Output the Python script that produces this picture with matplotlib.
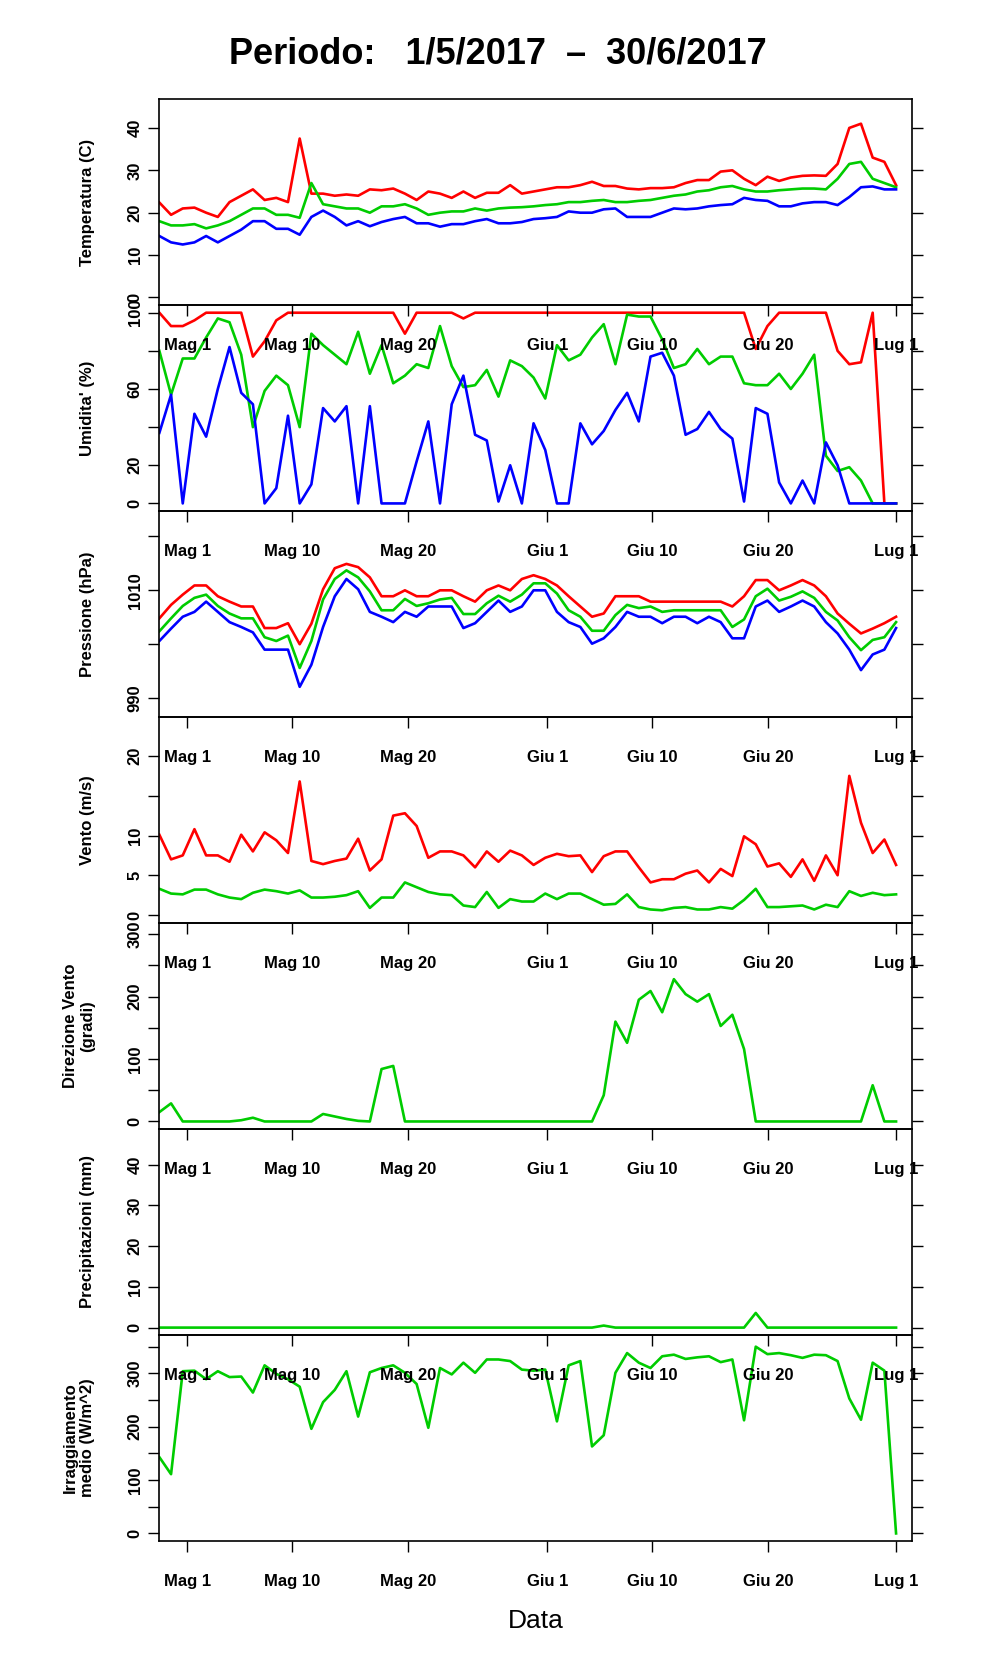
import numpy as np
import matplotlib.pyplot as plt

plt.rcParams['font.family'] = ['Liberation Sans', 'DejaVu Sans']

# x tick positions (days from 1 May) and labels
tick_days = [0, 9, 19, 31, 40, 50, 61]
tick_labels = ['Mag 1', 'Mag 10', 'Mag 20', 'Giu 1', 'Giu 10', 'Giu 20', 'Lug 1']
x_first, x_last = -2.4, 61.0

# temperatura
t_max = [22.4, 19.5, 21, 21.2, 20, 19, 22.5, 24, 25.5, 23, 23.5, 22.5, 37.5, 24.5, 24.5, 24, 24.3, 24,
         25.5, 25.3, 25.7, 24.5, 23, 25, 24.5, 23.5, 25, 23.5, 24.7, 24.7, 26.5, 24.5, 25, 25.5, 26, 26,
         26.5, 27.3, 26.3, 26.3, 25.7, 25.5, 25.8, 25.8, 26, 27, 27.7, 27.7, 29.7, 30, 28, 26.5, 28.5, 27.5,
         28.3, 28.7, 28.8, 28.7, 31.5, 40, 41, 33, 32, 26.5]
t_med = [18, 17, 17, 17.3, 16.3, 17, 18, 19.5, 21, 21, 19.5, 19.5, 18.8, 27, 22, 21.5, 21, 21, 20, 21.5,
         21.5, 22, 21, 19.5, 20, 20.3, 20.3, 21, 20.5, 21, 21.2, 21.3, 21.5, 21.8, 22, 22.5, 22.5, 22.8, 23,
         22.5, 22.5, 22.8, 23, 23.5, 24, 24.3, 25, 25.3, 26, 26.3, 25.5, 25, 25, 25.3, 25.5, 25.7, 25.7,
         25.5, 28, 31.5, 32, 28, 27, 26]
t_min = [14.5, 13, 12.5, 13, 14.5, 13, 14.5, 16, 18, 18, 16.2, 16.2, 14.8, 19, 20.5, 19, 17, 18, 16.8,
         17.8, 18.5, 19, 17.5, 17.5, 16.7, 17.3, 17.3, 18, 18.5, 17.5, 17.5, 17.8, 18.5, 18.7, 19, 20.3, 20,
         20, 20.8, 21, 19, 19, 19, 20, 21, 20.8, 21, 21.5, 21.8, 22, 23.5, 23, 22.8, 21.5, 21.5, 22.2, 22.5,
         22.5, 21.8, 23.7, 26, 26.2, 25.5, 25.5]

# umidita'
u_max = [100, 93, 93, 96, 100, 100, 100, 100, 77, 85, 96, 100, 100, 100, 100, 100, 100, 100, 100, 100,
         100, 89, 100, 100, 100, 100, 97, 100, 100, 100, 100, 100, 100, 100, 100, 100, 100, 100, 100, 100,
         100, 100, 100, 100, 100, 100, 100, 100, 100, 100, 100, 81, 93, 100, 100, 100, 100, 100, 80, 73, 74,
         100, 0, 0]
u_med = [80, 57, 76, 76, 87, 97, 95, 78, 40, 59, 67, 62, 40, 89, 83, 78, 73, 90, 68, 83, 63, 67, 73, 71,
         93, 72, 61, 62, 70, 56, 75, 72, 66, 55, 83, 75, 78, 87, 94, 73, 99, 98, 98, 86, 71, 73, 81, 73, 77,
         77, 63, 62, 62, 68, 60, 68, 78, 25, 17, 19, 12, 0, 0, 0]
u_min = [37, 57, 0, 47, 35, 60, 82, 58, 52, 0, 8, 46, 0, 10, 50, 43, 51, 0, 51, 0, 0, 0, 22, 43, 0, 52,
         67, 36, 33, 1, 20, 0, 42, 28, 0, 0, 42, 31, 38, 49, 58, 43, 77, 79, 67, 36, 39, 48, 39, 34, 1, 50,
         47, 11, 0, 12, 0, 32, 20, 0, 0, 0, 0, 0]

# pressione
p_max = [1004.8, 1007.3, 1009.2, 1010.9, 1010.9, 1008.9, 1007.9, 1007, 1007, 1003, 1003, 1003.9, 1000,
         1003.8, 1010.2, 1014.1, 1014.9, 1014.3, 1012.4, 1008.9, 1008.9, 1010, 1008.9, 1008.9, 1010, 1010,
         1008.9, 1007.9, 1010, 1010.9, 1010, 1012.1, 1012.8, 1012.1, 1010.9, 1008.9, 1007, 1005.1, 1005.7,
         1008.9, 1008.9, 1008.9, 1007.9, 1007.9, 1007.9, 1007.9, 1007.9, 1007.9, 1007.9, 1007, 1008.9,
         1011.9, 1011.9, 1010, 1010.9, 1011.9, 1010.9, 1008.9, 1005.7, 1003.8, 1002, 1002.9, 1003.9, 1005.1]
p_med = [1002.4, 1004.8, 1007.1, 1008.6, 1009.2, 1007.1, 1005.7, 1004.8, 1004.8, 1001.3, 1000.6, 1001.6,
         995.6, 1000.6, 1008.3, 1012.1, 1013.7, 1012.4, 1009.8, 1006.3, 1006.3, 1008.4, 1007.1, 1007.6,
         1008.3, 1008.6, 1005.6, 1005.6, 1007.6, 1009, 1007.9, 1009.2, 1011.3, 1011.3, 1009.4, 1006.3,
         1005.1, 1002.5, 1002.5, 1005.4, 1007.3, 1006.7, 1007, 1006, 1006.3, 1006.3, 1006.3, 1006.3, 1006.3,
         1003.2, 1004.6, 1008.9, 1010.3, 1008.1, 1008.8, 1009.8, 1008.6, 1006, 1004.4, 1001.3, 998.9,
         1000.8, 1001.3, 1004.1]
p_min = [1000.6, 1002.9, 1005.1, 1006, 1007.9, 1006, 1004.1, 1003.2, 1002.2, 999, 999, 999, 992.1, 996.2,
         1003.2, 1008.9, 1012.1, 1010.2, 1006, 1005.1, 1004.1, 1006, 1005.1, 1007, 1007, 1007, 1003, 1003.9,
         1006, 1008.1, 1006, 1007, 1010, 1010, 1006, 1004.1, 1003.2, 1000.1, 1001.1, 1003.2, 1006, 1005.1,
         1005.1, 1003.9, 1005.1, 1005.1, 1003.9, 1005.1, 1004.1, 1001.1, 1001.1, 1007, 1008.1, 1006, 1007,
         1008.1, 1007, 1004.1, 1002, 999, 995.2, 998.1, 999, 1003]

# vento
v_max = [10.1, 7, 7.5, 10.8, 7.5, 7.5, 6.7, 10.1, 8, 10.4, 9.4, 7.8, 16.8, 6.8, 6.4, 6.8, 7.1, 9.6, 5.6,
         7, 12.5, 12.8, 11.2, 7.2, 8, 8, 7.5, 6, 8, 6.7, 8.1, 7.5, 6.3, 7.2, 7.7, 7.4, 7.5, 5.4, 7.4, 8, 8,
         6, 4.1, 4.5, 4.5, 5.2, 5.6, 4.1, 5.8, 4.9, 9.9, 8.9, 6.1, 6.5, 4.8, 7, 4.3, 7.5, 5, 17.5, 11.6, 7.8,
         9.5, 6.3]
v_med = [3.3, 2.7, 2.6, 3.2, 3.2, 2.6, 2.2, 2, 2.8, 3.2, 3, 2.7, 3.1, 2.2, 2.2, 2.3, 2.5, 3, 0.9, 2.2, 2.2,
         4.1, 3.5, 2.9, 2.6, 2.5, 1.2, 1, 2.9, 0.9, 2, 1.7, 1.7, 2.7, 2, 2.7, 2.7, 2, 1.3, 1.4, 2.6, 1, 0.7,
         0.6, 0.9, 1, 0.7, 0.7, 1, 0.8, 1.9, 3.3, 1, 1, 1.1, 1.2, 0.7, 1.3, 1, 3, 2.4, 2.8, 2.5, 2.6]

# direzione vento
d_med = [15, 29, 0, 0, 0, 0, 0, 2, 6, 0, 0, 0, 0, 0, 12, 8, 4, 1, 0, 84, 89, 0, 0, 0, 0, 0, 0, 0, 0, 0,
         0, 0, 0, 0, 0, 0, 0, 0, 42, 160, 126, 195, 209, 175, 228, 204, 192, 204, 153, 171, 116, 0, 0, 0,
         0, 0, 0, 0, 0, 0, 0, 58, 0, 0]

# precipitazioni
r_tot = [0] * 38 + [0.5, 0] + [0] * 11 + [3.6] + [0] * 12

# irraggiamento
i_med = [143, 111, 304, 305, 289, 304, 293, 294, 264, 315, 299, 289, 275, 196, 246, 269, 304, 219, 302,
         310, 315, 301, 280, 198, 310, 298, 320, 301, 326, 326, 323, 307, 305, 307, 210, 315, 323, 163,
         184, 301, 338, 320, 310, 332, 335, 327, 330, 332, 321, 326, 212, 350, 336, 338, 334, 329, 335, 334,
         323, 253, 213, 320, 305, 0]

RED, GREEN, BLUE = '#ff0000', '#00cc00', '#0000ff'

panels = [
    ('Temperatura (C)', [(t_max, RED), (t_med, GREEN), (t_min, BLUE)],
     (-1.8, 46.8), [0, 10, 20, 30, 40], [0, 10, 20, 30, 40]),
    ("Umidita' (%)", [(u_max, RED), (u_med, GREEN), (u_min, BLUE)],
     (-4, 104), [0, 20, 40, 60, 80, 100], [0, 20, 60, 100]),
    ('Pressione (hPa)', [(p_max, RED), (p_med, GREEN), (p_min, BLUE)],
     (986.5, 1024.7), [990, 1000, 1010, 1020], [990, 1010]),
    ('Vento (m/s)', [(v_max, RED), (v_med, GREEN)],
     (-1.0, 24.9), [0, 5, 10, 15, 20], [0, 5, 10, 20]),
    ('Direzione Vento\n(gradi)', [(d_med, GREEN)],
     (-12, 318), [0, 50, 100, 150, 200, 250, 300], [0, 100, 200, 300]),
    ('Precipitazioni (mm)', [(r_tot, GREEN)],
     (-1.8, 48.8), [0, 10, 20, 30, 40], [0, 10, 20, 30, 40]),
    ('Irraggiamento\nmedio (W/m^2)', [(i_med, GREEN)],
     (-14, 372), [0, 50, 100, 150, 200, 250, 300, 350], [0, 100, 200, 300]),
]

fig = plt.figure(figsize=(9.96, 16.8), dpi=100)
left, width = 0.16, 0.756
top, h = 0.941, 0.1226

for k, (label, series, ylim, yt, ylab) in enumerate(panels):
    ax = fig.add_axes([left, top - (k + 1) * h, width, h])
    ax.set_facecolor('none')
    for vals, col in series:
        x = np.linspace(x_first, x_last, len(vals))
        ax.plot(x, vals, color=col, lw=1.9)
    ax.set_xlim(-2.4, 62.4)
    ax.set_ylim(*ylim)
    ax.set_xticks(tick_days)
    ax.set_xticklabels(tick_labels, fontsize=12, fontweight='bold')
    ax.set_yticks(yt)
    ax.set_yticklabels([str(v) if v in ylab else '' for v in yt],
                       rotation=90, va='center', fontsize=12, fontweight='bold')
    ax.tick_params(axis='x', direction='out', length=8, width=1, pad=16)
    ax.tick_params(axis='y', direction='out', length=8, width=1, pad=4,
                   right=True)
    ax.set_ylabel(label, fontsize=12, fontweight='bold', labelpad=6)
    ax.yaxis.set_label_coords(-0.085, 0.5)
    for s in ax.spines.values():
        s.set_linewidth(1.2)
    ax.set_zorder(10 - k)

ax.set_xlabel('Data', fontsize=19, labelpad=14)
fig.suptitle('Periodo:   1/5/2017  \u2013  30/6/2017', fontsize=26,
             fontweight='bold', y=0.978)
fig.savefig('out.png', dpi=100)
